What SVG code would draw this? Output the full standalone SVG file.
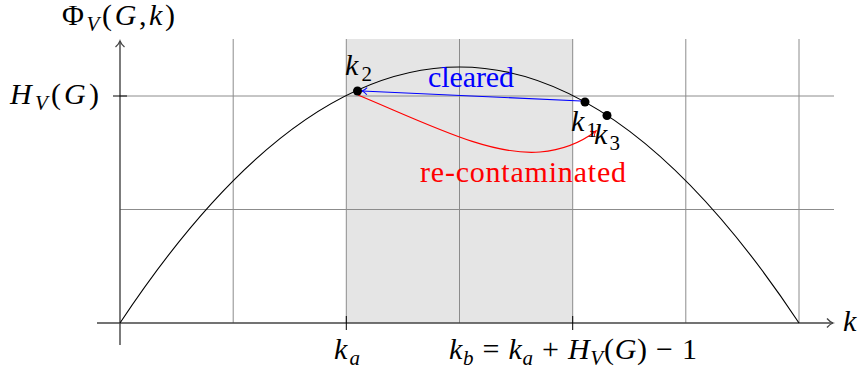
<svg xmlns="http://www.w3.org/2000/svg" width="860" height="376" viewBox="0 0 860 376">
<style>
text{font-family:"Liberation Serif","DejaVu Serif",serif;font-size:30px;fill:#000}
.i{font-style:italic}
.s{font-size:21px}
.grid{stroke:#8c8c8c;stroke-width:1;fill:none}
.axis{stroke:#444;stroke-width:1.4;fill:none}
.dot{fill:#000}
</style>
<defs>
<marker id="ah" markerUnits="userSpaceOnUse" markerWidth="14" markerHeight="14" refX="10" refY="7" orient="auto">
<path d="M4,2.5 Q7,6 10,7 Q7,8 4,11.5" fill="none" stroke="#444" stroke-width="1.3"/>
</marker>
<marker id="ab" markerUnits="userSpaceOnUse" markerWidth="12" markerHeight="12" refX="9" refY="6" orient="auto">
<path d="M4,2.5 Q6.5,5.3 9,6 Q6.5,6.7 4,9.5" fill="none" stroke="#00f" stroke-width="1.1"/>
</marker>
<marker id="ar" markerUnits="userSpaceOnUse" markerWidth="12" markerHeight="12" refX="9" refY="6" orient="auto">
<path d="M4,2.5 Q6.5,5.3 9,6 Q6.5,6.7 4,9.5" fill="none" stroke="#f00" stroke-width="1.1"/>
</marker>
</defs>
<g id="background">
<rect x="346.3" y="39" width="226.4" height="284" fill="#e5e5e5"/>
<path class="grid" d="M233.2,39V323M346.3,39V323M459.5,39V323M572.7,39V323M685.8,39V323M799,39V323M120,96H834M120,209.5H834"/>
</g>
<g id="axes">
<path class="axis" d="M97,323H833" marker-end="url(#ah)"/>
<path class="axis" d="M120,345V41" marker-end="url(#ah)"/>
<path d="M113,96H127M346.3,316V330M572.7,316V330" fill="none" stroke="#000" stroke-width="1"/>
</g>
<g id="curve">
<path d="M120,323 Q459.5,-189 799,323" fill="none" stroke="#000" stroke-width="1.1"/>
</g>
<g id="connectors">
<path d="M581,101 L362,91" fill="none" stroke="#00f" stroke-width="1.1" marker-end="url(#ab)"/>
<path d="M358,95 C430,125 490,156 540,152 C563,150 583,141 596,131" fill="none" stroke="#f00" stroke-width="1.1" marker-end="url(#ar)"/>
</g>
<g id="k2"><circle class="dot" cx="357.5" cy="91" r="4.5"/><text x="345" y="75" textLength="27"><tspan class="i">k</tspan><tspan class="s" dy="6">2</tspan></text></g>
<g id="k1"><circle class="dot" cx="585" cy="102" r="4.5"/><text x="571" y="131" textLength="26"><tspan class="i">k</tspan><tspan class="s" dy="6">1</tspan></text></g>
<g id="k3"><circle class="dot" cx="607" cy="115.5" r="4.5"/><text x="594" y="144" textLength="26"><tspan class="i">k</tspan><tspan class="s" dy="6">3</tspan></text></g>
<g id="labels">
<text x="428" y="87" style="fill:#00f" textLength="86">cleared</text>
<text x="420" y="182" style="fill:#f00" textLength="206">re-contaminated</text>
<text x="62" y="25" textLength="113">Φ<tspan class="i s" dy="6">V</tspan><tspan dy="-6">(</tspan><tspan class="i">G</tspan>,<tspan class="i">k</tspan>)</text>
<text x="10" y="104" textLength="89"><tspan class="i">H</tspan><tspan class="i s" dy="6">V</tspan><tspan dy="-6">(</tspan><tspan class="i">G</tspan>)</text>
<text x="843" y="331" class="i">k</text>
<text x="334" y="359" textLength="26"><tspan class="i">k</tspan><tspan class="i s" dy="6">a</tspan></text>
<text x="449" y="359" textLength="248"><tspan class="i">k</tspan><tspan class="i s" dy="6">b</tspan><tspan dy="-6"> = </tspan><tspan class="i">k</tspan><tspan class="i s" dy="6">a</tspan><tspan dy="-6"> + </tspan><tspan class="i">H</tspan><tspan class="i s" dy="6">V</tspan><tspan dy="-6">(</tspan><tspan class="i">G</tspan>) − 1</text>
</g>
</svg>
